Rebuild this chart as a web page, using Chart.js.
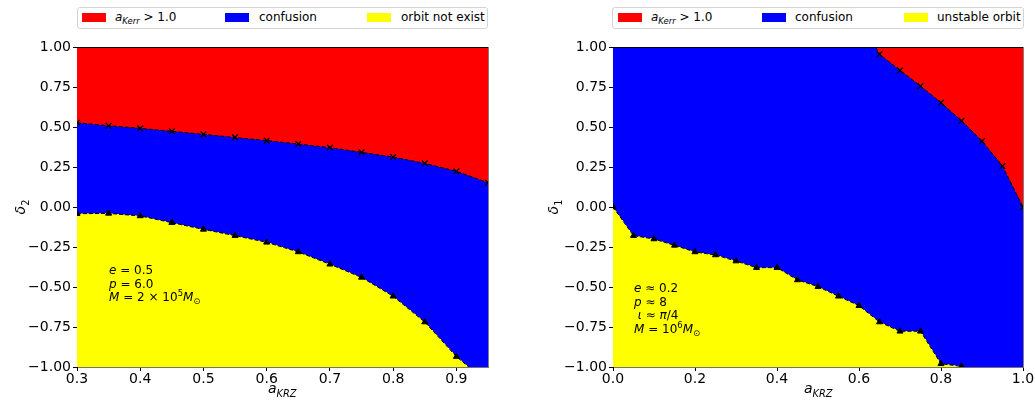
<!DOCTYPE html>
<html>
<head>
<meta charset="utf-8">
<script src="https://cdn.jsdelivr.net/npm/chart.js@4.4.0/dist/chart.umd.min.js"></script>
<style>
  body { margin: 0; width: 1035px; height: 405px; background: #fff; position: relative; overflow: hidden;
         font-family: 'DejaVu Sans', sans-serif; color: #000; }
  canvas { position: absolute; top: 0; }
  .legend { position: absolute; top: 7px; height: 20px; border: 1px solid #d4d4d4; border-radius: 3px; background: #fff; }
  .patch { position: absolute; top: 5px; width: 24px; height: 9px; }
  .ltxt { position: absolute; top: 2px; font-size: 12px; line-height: 14px; white-space: nowrap; }
  .note { position: absolute; font-size: 12px; line-height: 13.7px; white-space: nowrap; }
  .axlab { position: absolute; font-size: 14px; line-height: 16px; white-space: nowrap; }
  sub, sup { font-size: 70%; line-height: 0; }
</style>
</head>
<body>
<canvas id="left" width="500" height="405" style="left:0px"></canvas>
<canvas id="right" width="515" height="405" style="left:520px"></canvas>

<!-- legends -->
<div class="legend" style="left:77px; width:409px;">
  <div class="patch" style="left:4px; background:#ff0000"></div>
  <div class="ltxt" style="left:37px"><i>a</i><sub><i>Kerr</i></sub> &gt; 1.0</div>
  <div class="patch" style="left:147px; background:#0000ff"></div>
  <div class="ltxt" style="left:181px">confusion</div>
  <div class="patch" style="left:289px; background:#ffff00"></div>
  <div class="ltxt" style="left:323px">orbit not exist</div>
</div>
<div class="legend" style="left:612px; width:410px;">
  <div class="patch" style="left:5px; background:#ff0000"></div>
  <div class="ltxt" style="left:38px"><i>a</i><sub><i>Kerr</i></sub> &gt; 1.0</div>
  <div class="patch" style="left:149px; background:#0000ff"></div>
  <div class="ltxt" style="left:182px">confusion</div>
  <div class="patch" style="left:291px; background:#ffff00"></div>
  <div class="ltxt" style="left:324px">unstable orbit</div>
</div>

<!-- annotations -->
<div class="note" style="left:109px; top:264px;">
  <i>e</i> = 0.5<br><i>p</i> = 6.0<br><i>M</i> = 2 × 10<sup>5</sup><i>M</i><sub>⊙</sub>
</div>
<div class="note" style="left:634px; top:282px;">
  <i>e</i> ≈ 0.2<br><i>p</i> ≈ 8<br>&nbsp;<i>ι</i> ≈ <i>π</i>/4<br><i>M</i> = 10<sup>6</sup><i>M</i><sub>⊙</sub>
</div>

<!-- axis titles -->
<div class="axlab" style="left:268px; top:380px;"><i>a</i><sub><i>KRZ</i></sub></div>
<div class="axlab" style="left:804px; top:380px;"><i>a</i><sub><i>KRZ</i></sub></div>
<div class="axlab" style="left:13px; top:199px; transform:rotate(-90deg);"><i>δ</i><sub>2</sub></div>
<div class="axlab" style="left:546px; top:199px; transform:rotate(-90deg);"><i>δ</i><sub>1</sub></div>

<script>
// left panel: e=0.5, p=6, delta_2
const leftX = [0.30, 0.35, 0.40, 0.45, 0.50, 0.55, 0.60, 0.65, 0.70, 0.75, 0.80, 0.85, 0.90, 0.95];
const leftKerr = [0.527, 0.508, 0.492, 0.473, 0.454, 0.435, 0.415, 0.394, 0.371, 0.342, 0.312, 0.273, 0.223, 0.152];
const leftNoOrbit = [-0.042, -0.040, -0.056, -0.098, -0.140, -0.179, -0.221, -0.281, -0.358, -0.440, -0.558, -0.719, -0.935, -1.10];
const leftXTicks = [0.3, 0.4, 0.5, 0.6, 0.7, 0.8, 0.9];

// right panel: e~0.2, p~8, delta_1
const rightKerrX = [0.60, 0.65, 0.70, 0.75, 0.80, 0.85, 0.90, 0.95, 1.00];
const rightKerr = [1.20, 0.955, 0.854, 0.756, 0.652, 0.539, 0.412, 0.256, 0.0];
const rightX = [0.00, 0.05, 0.10, 0.15, 0.20, 0.25, 0.30, 0.35, 0.40, 0.45, 0.50, 0.55, 0.60, 0.65, 0.70, 0.75, 0.80, 0.85, 0.90, 0.95, 1.00];
const rightUnstable = [0.0, -0.179, -0.200, -0.240, -0.281, -0.300, -0.338, -0.379, -0.379, -0.456, -0.498, -0.558, -0.617, -0.719, -0.777, -0.777, -0.980, -0.996, -1.05, -1.05, -1.05];
const rightXTicks = [0.0, 0.2, 0.4, 0.6, 0.8, 1.0];

const yTicks = [-1.0, -0.75, -0.5, -0.25, 0.0, 0.25, 0.5, 0.75, 1.0];

const RED = '#ff0000', BLUE = '#0000ff', YELLOW = '#ffff00';

function pts(xs, ys) {
    return xs.map((x, i) => ({ x: x, y: ys[i] }));
}

const framePlugin = {
    id: 'frame',
    afterDraw(chart) {
        const a = chart.chartArea;
        const ctx = chart.ctx;
        ctx.save();
        ctx.lineWidth = 1;
        ctx.strokeStyle = '#000';
        ctx.beginPath();
        ctx.moveTo(a.left, a.top + 0.5);
        ctx.lineTo(a.right, a.top + 0.5);
        ctx.stroke();
        ctx.strokeStyle = 'rgba(0,0,0,0.5)';
        ctx.beginPath();
        ctx.moveTo(a.right + 0.5, a.top);
        ctx.lineTo(a.right + 0.5, a.bottom);
        ctx.stroke();
        ctx.restore();
    }
};

function makePanel(id, xMin, xMax, xTicks, kerrData, lowerData, yWidth) {
    const ctx = document.getElementById(id);
    return new Chart(ctx, {
        type: 'line',
        data: {
            datasets: [
                {
                    label: 'a_Kerr > 1.0',
                    data: kerrData,
                    fill: 'end',
                    backgroundColor: RED,
                    borderColor: '#000',
                    borderWidth: 1,
                    borderDash: [4, 2],
                    pointStyle: 'crossRot',
                    pointRadius: 4,
                    pointBorderColor: '#000',
                    pointBackgroundColor: '#000',
                    pointBorderWidth: 1.3,
                    order: 0
                },
                {
                    label: 'lower',
                    data: lowerData,
                    fill: 'start',
                    backgroundColor: YELLOW,
                    borderColor: '#000',
                    borderWidth: 1,
                    borderDash: [4, 2],
                    pointStyle: 'triangle',
                    pointRadius: 3.5,
                    pointBorderColor: '#000',
                    pointBackgroundColor: '#000',
                    pointBorderWidth: 1,
                    order: 1
                },
                {
                    label: 'confusion',
                    data: lowerData,
                    fill: 'end',
                    backgroundColor: BLUE,
                    borderWidth: 0,
                    pointRadius: 0,
                    order: 2
                }
            ]
        },
        options: {
            responsive: false,
            animation: false,
            layout: { padding: { left: 0, right: 12, top: 47, bottom: 0 } },
            plugins: { legend: { display: false }, tooltip: { enabled: false } },
            scales: {
                x: {
                    type: 'linear',
                    min: xMin,
                    max: xMax,
                    z: 1,
                    afterFit: (s) => { s.height = 38; },
                    afterBuildTicks: (s) => { s.ticks = xTicks.map(v => ({ value: v })); },
                    border: { display: true, color: 'rgba(0,0,0,0.55)', width: 1 },
                    grid: { drawOnChartArea: false, drawTicks: true, tickLength: 4, tickColor: '#000', tickWidth: 1 },
                    ticks: {
                        padding: 0,
                        color: '#000',
                        maxRotation: 0,
                        autoSkip: false,
                        font: { family: 'DejaVu Sans', size: 14 },
                        callback: (v) => v.toFixed(1)
                    }
                },
                y: {
                    type: 'linear',
                    min: -1,
                    max: 1,
                    z: 1,
                    afterFit: (s) => { s.width = yWidth; },
                    afterBuildTicks: (s) => { s.ticks = yTicks.map(v => ({ value: v })); },
                    border: { display: true, color: '#000', width: 1 },
                    grid: {
                        drawOnChartArea: true,
                        drawTicks: true,
                        tickLength: 4,
                        tickColor: '#000',
                        tickWidth: 1,
                        color: (c) => (c.tick && c.tick.value === 0 ? 'rgba(255,255,255,0.3)' : 'rgba(0,0,0,0)')
                    },
                    ticks: {
                        padding: 2,
                        color: '#000',
                        autoSkip: false,
                        font: { family: 'DejaVu Sans', size: 14 },
                        callback: (v) => (v < 0 ? '\u2212' : '') + Math.abs(v).toFixed(2)
                    }
                }
            }
        },
        plugins: [framePlugin]
    });
}

makePanel('left', 0.3, 0.95, leftXTicks, pts(leftX, leftKerr), pts(leftX, leftNoOrbit), 77);
makePanel('right', 0.0, 1.0, rightXTicks, pts(rightKerrX, rightKerr), pts(rightX, rightUnstable), 93);
</script>
</body>
</html>
